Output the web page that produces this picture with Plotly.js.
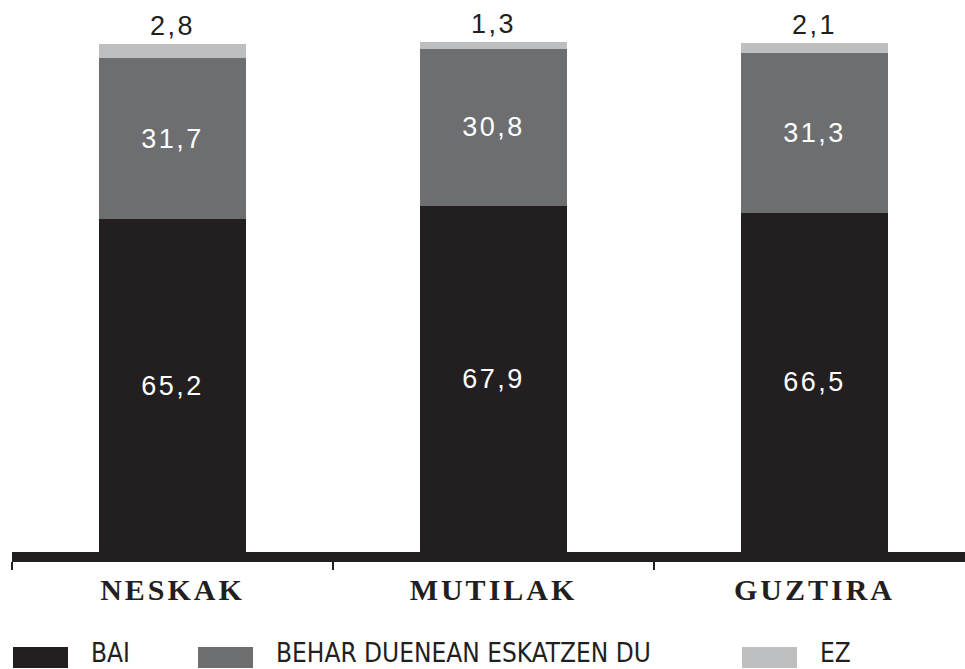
<!DOCTYPE html>
<html>
<head>
<meta charset="utf-8">
<script src="https://cdn.plot.ly/plotly-3.0.1.min.js"></script>
<style>
  html, body { margin: 0; padding: 0; background: #fff; }
  #chart { width: 965px; height: 669px; }
  .xtick text { letter-spacing: 3px; }
  .bartext { letter-spacing: 2.5px; }
</style>
</head>
<body>
<div id="chart"></div>
<script>
// ---- data ----
const categories = ['NESKAK', 'MUTILAK', 'GUZTIRA'];
const seriesNames = ['BAI', 'BEHAR DUENEAN ESKATZEN DU', 'EZ'];
const bai = [65.2, 67.9, 66.5];
const behar = [31.7, 30.8, 31.3];
const ez = [2.8, 1.3, 2.1];

// ---- styling ----
const colors = ['#231f20', '#6d6e70', '#bcbec0'];
const dark = '#231f20';
const fmt = v => v.toFixed(1).replace('.', ',');

// plot area geometry in pixels
const W = 965, H = 669;
const L = 12, R = 0, T = 42, B = 117;
const plotW = W - L - R, plotH = H - T - B;
const px2x = px => (px - L) / plotW;
const py2y = py => (H - B - py) / plotH;

const series = [bai, behar, ez];
const traces = series.map((vals, i) => ({
  type: 'bar',
  name: seriesNames[i],
  x: categories,
  y: vals,
  width: 0.458,
  marker: { color: colors[i], line: { width: 0 } },
  text: vals.map(fmt),
  textposition: i === 2 ? 'outside' : 'inside',
  insidetextanchor: 'middle',
  constraintext: 'none',
  cliponaxis: false,
  textfont: { family: 'Liberation Sans, Arial, sans-serif', size: 27, color: i === 2 ? dark : '#ffffff' },
  outsidetextfont: { family: 'Liberation Sans, Arial, sans-serif', size: 27, color: dark },
  hoverinfo: 'skip',
  showlegend: false
}));

// custom legend (swatches + labels)
const legendSwatchX = [13, 198, 742];
const swW = 55, swTop = 647, swBot = 668;
const shapes = [];
const annotations = [];
seriesNames.forEach((name, i) => {
  shapes.push({
    type: 'rect', xref: 'paper', yref: 'paper',
    x0: px2x(legendSwatchX[i]), x1: px2x(legendSwatchX[i] + swW),
    y0: py2y(swBot), y1: py2y(swTop),
    fillcolor: colors[i], line: { width: 0 }
  });
  annotations.push({
    xref: 'paper', yref: 'paper',
    x: px2x(legendSwatchX[i] + swW + 21), y: py2y(653),
    xanchor: 'left', yanchor: 'middle',
    text: name, showarrow: false,
    font: { family: 'Liberation Sans Narrow, DejaVu Sans Condensed, sans-serif', size: 26, color: dark }
  });
});

const layout = {
  width: W, height: H,
  margin: { l: L, r: R, t: T, b: B, pad: 0 },
  paper_bgcolor: '#ffffff',
  plot_bgcolor: '#ffffff',
  barmode: 'stack',
  showlegend: false,
  xaxis: {
    type: 'category',
    range: [-0.5, 2.469],
    showline: true, linewidth: 10, linecolor: dark,
    ticks: 'outside', tickson: 'boundaries',
    ticklen: 8, tickwidth: 2, tickcolor: dark,
    ticklabelstandoff: 2,
    tickfont: { family: 'Liberation Serif, Times New Roman, serif', size: 30, color: dark, weight: 'bold' },
    showgrid: false, zeroline: false, fixedrange: true
  },
  yaxis: {
    range: [0, 100], visible: false, showgrid: false, zeroline: false, fixedrange: true
  },
  shapes: shapes,
  annotations: annotations
};

Plotly.newPlot('chart', traces, layout, { staticPlot: true, displayModeBar: false });
</script>
</body>
</html>
